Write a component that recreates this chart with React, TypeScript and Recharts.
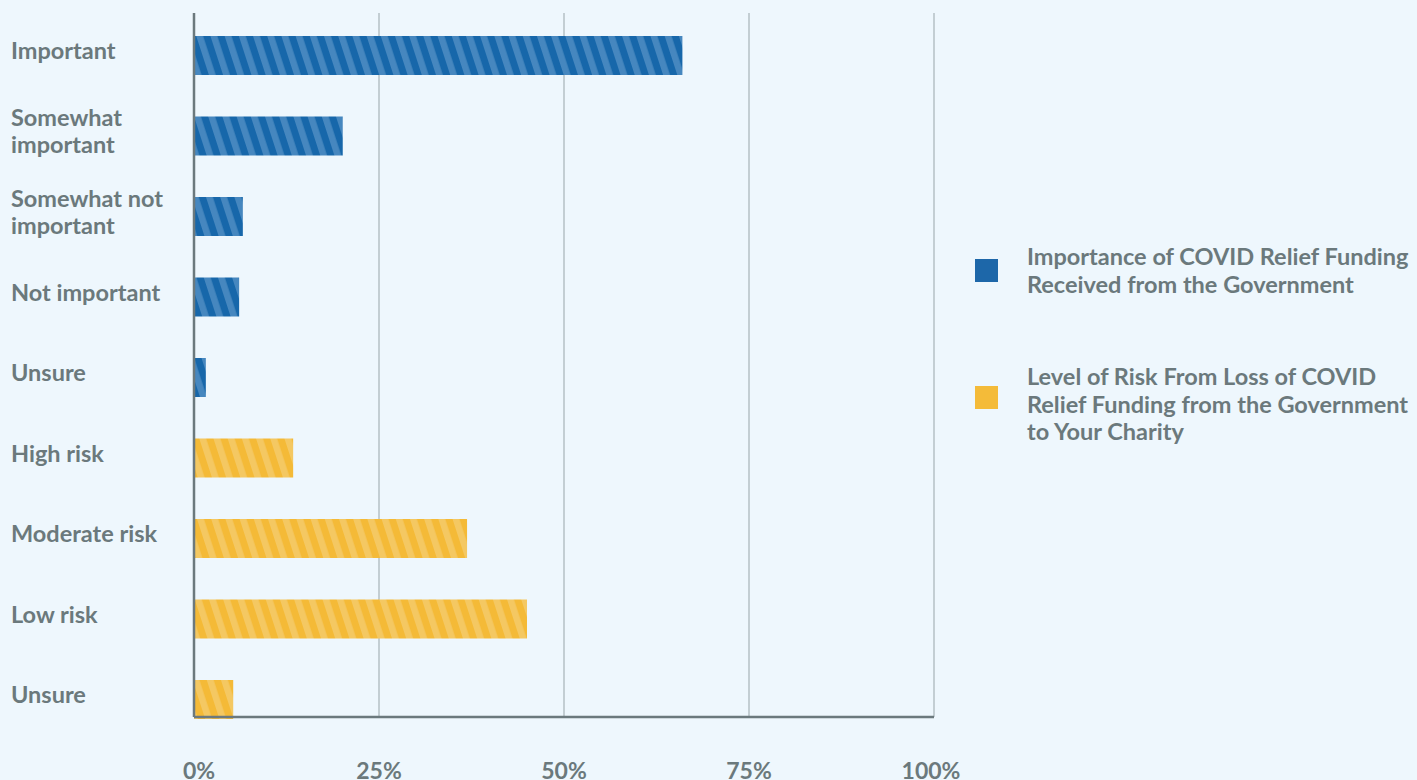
import React from 'react';
import { BarChart, Bar, XAxis, YAxis, CartesianGrid, Legend } from 'recharts';

const categories = [
  'Important',
  'Somewhat\nimportant',
  'Somewhat not\nimportant',
  'Not important',
  'Unsure',
  'High risk',
  'Moderate risk',
  'Low risk',
  'Unsure',
];
const importanceValues: (number | null)[] = [66.0, 20.1, 6.6, 6.1, 1.6, null, null, null, null];
const riskValues: (number | null)[] = [null, null, null, null, null, 13.4, 36.9, 45.0, 5.3];
const xTicks = [0, 25, 50, 75, 100];
const seriesNames = [
  'Importance of COVID Relief Funding Received from the Government',
  'Level of Risk From Loss of COVID Relief Funding from the Government to Your Charity',
];

const data = categories.map((c, i) => ({
  id: i,
  label: c,
  importance: importanceValues[i],
  risk: riskValues[i],
}));

const FONT = 'Lato, "Noto Sans", sans-serif';
const TEXT = '#6b797c';
const BLUE = '#1d67a9';
const YELLOW = '#f4bb39';
const legendColors = [BLUE, YELLOW];

const YTick = (props: any) => {
  const { y, payload } = props;
  const lines = String(categories[payload.value] ?? '').split('\n');
  const lh = 27;
  const startY = y - 5 - ((lines.length - 1) * lh) / 2;
  return (
    <text x={11} y={startY} fill={TEXT} fontFamily={FONT} fontWeight={700} fontSize={23.5} textAnchor="start">
      {lines.map((l, i) => (
        <tspan key={i} x={11} y={startY + i * lh} dominantBaseline="central">
          {l}
        </tspan>
      ))}
    </text>
  );
};

const XTick = (props: any) => {
  const { x, payload } = props;
  return (
    <text x={x + (payload.value === 0 ? 5 : payload.value === 100 ? -3 : 0)} y={770} fill={TEXT} fontFamily={FONT} fontWeight={700} fontSize={23} textAnchor="middle" dominantBaseline="central">
      {payload.value}%
    </text>
  );
};

const LegendContent = (props: any) => {
  const payload = props.payload || [];
  return (
    <div style={{ fontFamily: FONT, fontWeight: 700, fontSize: 23.5, color: TEXT, lineHeight: '27.5px' }}>
      {payload.map((p: any, i: number) => (
        <div key={i} style={{ display: 'flex', alignItems: 'center', marginBottom: i === 0 ? 65 : 0 }}>
          <div style={{ width: 23, height: 23, background: legendColors[i], flex: '0 0 auto', marginRight: 29, marginTop: i === 0 ? 0 : -14 }} />
          <div style={{ width: 392 }}>{p.value}</div>
        </div>
      ))}
    </div>
  );
};

export default function App() {
  return (
    <div style={{ position: 'absolute', left: 0, top: 0, width: 1417, height: 780, background: '#eef7fd' }}>
      <BarChart
        width={1417}
        height={780}
        data={data}
        layout="vertical"
        margin={{ top: 13, right: 483, left: 0, bottom: 0 }}
        barSize={39}
      >
        <defs>
          <pattern id="blueHatch" patternUnits="userSpaceOnUse" width="13.5" height="14" patternTransform="rotate(-18)">
            <rect x="0" y="0" width="13.5" height="14" fill="#1767aa" />
            <rect x="0" y="0" width="6.5" height="14" fill="#4687bf" />
          </pattern>
          <pattern id="yellowHatch" patternUnits="userSpaceOnUse" width="13.5" height="14" patternTransform="rotate(-18)">
            <rect x="0" y="0" width="13.5" height="14" fill="#f4ba37" />
            <rect x="0" y="0" width="6.5" height="14" fill="#f4c862" />
          </pattern>
        </defs>
        <CartesianGrid horizontal={false} vertical={true} stroke="#b4c0c4" strokeWidth={1.5} />
        <XAxis
          type="number"
          domain={[0, 100]}
          ticks={xTicks}
          tick={<XTick />}
          tickLine={false}
          axisLine={{ stroke: '#6b797d', strokeWidth: 2.5 }}
          height={63}
          interval={0}
        />
        <YAxis
          type="category"
          dataKey="id"
          width={194}
          tick={<YTick />}
          tickLine={false}
          axisLine={{ stroke: '#6b797d', strokeWidth: 2.5 }}
          padding={{ top: 2, bottom: -22.5 }}
          interval={0}
        />
        <Legend
          verticalAlign="middle"
          align="center"
          layout="horizontal"
          content={<LegendContent />}
          wrapperStyle={{ left: 975, top: 243, width: 442, height: 210 }}
        />
        <Bar dataKey="importance" name={seriesNames[0]} stackId="a" fill="url(#blueHatch)" isAnimationActive={false} />
        <Bar dataKey="risk" name={seriesNames[1]} stackId="a" fill="url(#yellowHatch)" isAnimationActive={false} />
      </BarChart>
    </div>
  );
}
